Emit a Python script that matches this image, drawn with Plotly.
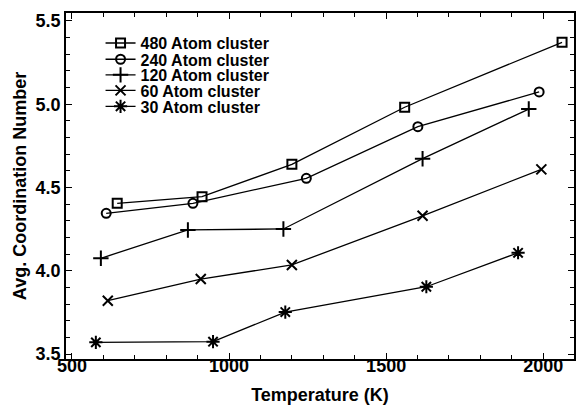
import plotly.graph_objects as go

labels = ["480 Atom cluster", "240 Atom cluster", "120 Atom cluster", "60 Atom cluster", "30 Atom cluster"]
symbols = ["square-open", "circle-open", "cross-thin-open", "x-thin-open", "asterisk-open"]

t480 = [644, 914, 1200, 1559, 2060]
c480 = [4.405, 4.445, 4.639, 4.982, 5.372]
t240 = [609, 885, 1246, 1601, 1987]
c240 = [4.345, 4.405, 4.555, 4.865, 5.074]
t120 = [592, 869, 1173, 1616, 1954]
c120 = [4.075, 4.245, 4.251, 4.673, 4.971]
t60 = [614, 910, 1200, 1616, 1994]
c60 = [3.82, 3.95, 4.035, 4.33, 4.609]
t30 = [576, 949, 1179, 1628, 1920]
c30 = [3.57, 3.574, 3.752, 3.904, 4.108]

xs = [t480, t240, t120, t60, t30]
ys = [c480, c240, c120, c60, c30]
msizes = [9, 9, 11, 10, 11]

legend_rows = [0.913, 0.866, 0.821, 0.776, 0.730]
legend_names = ["legend", "legend2", "legend3", "legend4", "legend5"]

font_fam = "Liberation Sans"
fig = go.Figure()
for lab, sym, x, y, ms, lg in zip(labels, symbols, xs, ys, msizes, legend_names):
    fig.add_trace(go.Scatter(
        x=x, y=y, mode="lines+markers", name=lab, legend=lg,
        line=dict(color="black", width=1.3),
        marker=dict(symbol=sym, size=ms, color="black",
                    line=dict(color="black", width=2)),
    ))

layout_legends = {}
for lg, yy in zip(legend_names, legend_rows):
    layout_legends[lg] = dict(
        x=0.068, y=yy, xanchor="left", yanchor="middle",
        bgcolor="rgba(0,0,0,0)", borderwidth=0,
        font=dict(family=font_fam, size=16, color="black", weight="bold"),
    )

fig.update_layout(
    width=577, height=408,
    margin=dict(l=66, r=1, t=13, b=49),
    paper_bgcolor="white", plot_bgcolor="white",
    showlegend=True,
    font=dict(family=font_fam, color="black"),
    **layout_legends,
)
fig.update_xaxes(
    range=[481, 2098], showgrid=False, zeroline=False,
    showline=True, linecolor="black", linewidth=1.5, mirror="allticks",
    ticks="inside", ticklen=6, tickcolor="black", tickwidth=1.2,
    tickvals=[500, 1000, 1500, 2000],
    minor=dict(dtick=100, tick0=500, ticks="inside", ticklen=4, tickcolor="black", tickwidth=1),
    tickfont=dict(size=18, family=font_fam, weight="bold"),
    ticklabelstandoff=-10,
    title=dict(text="Temperature (K)", font=dict(size=18, family=font_fam, weight="bold"), standoff=13),
)
fig.update_yaxes(
    range=[3.47, 5.548], showgrid=False, zeroline=False,
    showline=True, linecolor="black", linewidth=1.5, mirror="allticks",
    ticks="inside", ticklen=6, tickcolor="black", tickwidth=1.2,
    tickvals=[3.5, 4.0, 4.5, 5.0, 5.5], ticktext=["3.5", "4.0", "4.5", "5.0", "5.5"],
    minor=dict(dtick=0.1, tick0=3.5, ticks="inside", ticklen=4, tickcolor="black", tickwidth=1),
    tickfont=dict(size=18, family=font_fam, weight="bold"),
    title=dict(text="Avg. Coordination Number", font=dict(size=18, family=font_fam, weight="bold"), standoff=4),
)
fig.write_html("out.html")
